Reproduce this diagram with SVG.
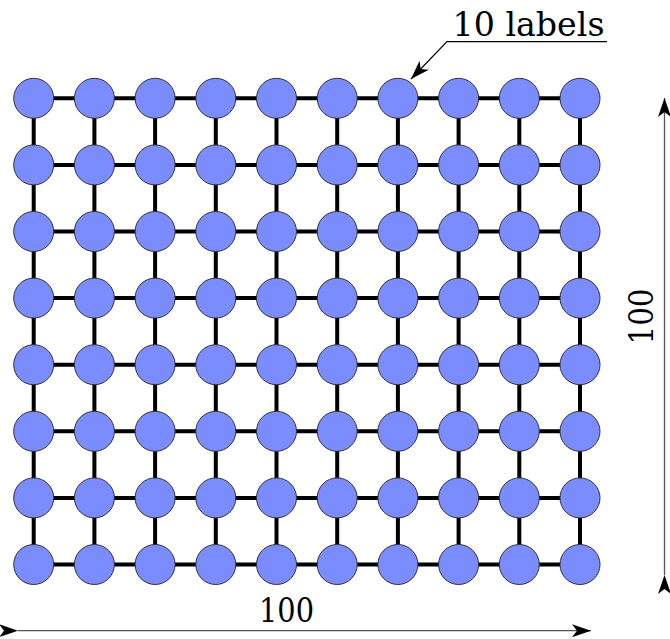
<svg xmlns="http://www.w3.org/2000/svg" width="670" height="639" viewBox="0 0 670 639">
<style>
.n{fill:#7b8cff;stroke:#333;stroke-width:1}
.e{stroke:#000;stroke-width:4;fill:none}
.d{stroke:#555;stroke-width:1.3;fill:none}
text{font-family:"DejaVu Serif","Liberation Serif",serif;font-size:34px;fill:#000}
</style>
<defs>
<marker id="ah" markerWidth="20" markerHeight="14" viewBox="0 0 20 14" refX="19" refY="7" orient="auto" markerUnits="userSpaceOnUse">
<path d="M0,0.5 L19,7 L0,13.5 L5,7 Z" fill="#000"/>
</marker>
</defs>
<rect width="670" height="639" fill="#fff"/>
<g id="connectors">
<path class="e" d="M33.7,98.3H580M33.7,164.9H580M33.7,231.5H580M33.7,298.1H580M33.7,364.7H580M33.7,431.3H580M33.7,497.9H580M33.7,564.5H580"/>
<path class="e" d="M33.7,98.3V564.5M94.4,98.3V564.5M155.1,98.3V564.5M215.8,98.3V564.5M276.5,98.3V564.5M337.2,98.3V564.5M397.9,98.3V564.5M458.6,98.3V564.5M519.3,98.3V564.5M580,98.3V564.5"/>
<path class="d" d="M664.5,575V98" marker-start="url(#ah)" marker-end="url(#ah)"/>
<path class="d" d="M18,630.7H591" marker-start="url(#ah)" marker-end="url(#ah)"/>
<path d="M607,41.7H447L411,79" fill="none" stroke="#000" stroke-width="1.2" marker-end="url(#ah)"/>
</g>
<g id="nodes">
<g id="r1"><circle class="n" cx="33.7" cy="98.3" r="20"/><circle class="n" cx="94.4" cy="98.3" r="20"/><circle class="n" cx="155.1" cy="98.3" r="20"/><circle class="n" cx="215.8" cy="98.3" r="20"/><circle class="n" cx="276.5" cy="98.3" r="20"/><circle class="n" cx="337.2" cy="98.3" r="20"/><circle class="n" cx="397.9" cy="98.3" r="20"/><circle class="n" cx="458.6" cy="98.3" r="20"/><circle class="n" cx="519.3" cy="98.3" r="20"/><circle class="n" cx="580" cy="98.3" r="20"/></g>
<g id="r2"><circle class="n" cx="33.7" cy="164.9" r="20"/><circle class="n" cx="94.4" cy="164.9" r="20"/><circle class="n" cx="155.1" cy="164.9" r="20"/><circle class="n" cx="215.8" cy="164.9" r="20"/><circle class="n" cx="276.5" cy="164.9" r="20"/><circle class="n" cx="337.2" cy="164.9" r="20"/><circle class="n" cx="397.9" cy="164.9" r="20"/><circle class="n" cx="458.6" cy="164.9" r="20"/><circle class="n" cx="519.3" cy="164.9" r="20"/><circle class="n" cx="580" cy="164.9" r="20"/></g>
<g id="r3"><circle class="n" cx="33.7" cy="231.5" r="20"/><circle class="n" cx="94.4" cy="231.5" r="20"/><circle class="n" cx="155.1" cy="231.5" r="20"/><circle class="n" cx="215.8" cy="231.5" r="20"/><circle class="n" cx="276.5" cy="231.5" r="20"/><circle class="n" cx="337.2" cy="231.5" r="20"/><circle class="n" cx="397.9" cy="231.5" r="20"/><circle class="n" cx="458.6" cy="231.5" r="20"/><circle class="n" cx="519.3" cy="231.5" r="20"/><circle class="n" cx="580" cy="231.5" r="20"/></g>
<g id="r4"><circle class="n" cx="33.7" cy="298.1" r="20"/><circle class="n" cx="94.4" cy="298.1" r="20"/><circle class="n" cx="155.1" cy="298.1" r="20"/><circle class="n" cx="215.8" cy="298.1" r="20"/><circle class="n" cx="276.5" cy="298.1" r="20"/><circle class="n" cx="337.2" cy="298.1" r="20"/><circle class="n" cx="397.9" cy="298.1" r="20"/><circle class="n" cx="458.6" cy="298.1" r="20"/><circle class="n" cx="519.3" cy="298.1" r="20"/><circle class="n" cx="580" cy="298.1" r="20"/></g>
<g id="r5"><circle class="n" cx="33.7" cy="364.7" r="20"/><circle class="n" cx="94.4" cy="364.7" r="20"/><circle class="n" cx="155.1" cy="364.7" r="20"/><circle class="n" cx="215.8" cy="364.7" r="20"/><circle class="n" cx="276.5" cy="364.7" r="20"/><circle class="n" cx="337.2" cy="364.7" r="20"/><circle class="n" cx="397.9" cy="364.7" r="20"/><circle class="n" cx="458.6" cy="364.7" r="20"/><circle class="n" cx="519.3" cy="364.7" r="20"/><circle class="n" cx="580" cy="364.7" r="20"/></g>
<g id="r6"><circle class="n" cx="33.7" cy="431.3" r="20"/><circle class="n" cx="94.4" cy="431.3" r="20"/><circle class="n" cx="155.1" cy="431.3" r="20"/><circle class="n" cx="215.8" cy="431.3" r="20"/><circle class="n" cx="276.5" cy="431.3" r="20"/><circle class="n" cx="337.2" cy="431.3" r="20"/><circle class="n" cx="397.9" cy="431.3" r="20"/><circle class="n" cx="458.6" cy="431.3" r="20"/><circle class="n" cx="519.3" cy="431.3" r="20"/><circle class="n" cx="580" cy="431.3" r="20"/></g>
<g id="r7"><circle class="n" cx="33.7" cy="497.9" r="20"/><circle class="n" cx="94.4" cy="497.9" r="20"/><circle class="n" cx="155.1" cy="497.9" r="20"/><circle class="n" cx="215.8" cy="497.9" r="20"/><circle class="n" cx="276.5" cy="497.9" r="20"/><circle class="n" cx="337.2" cy="497.9" r="20"/><circle class="n" cx="397.9" cy="497.9" r="20"/><circle class="n" cx="458.6" cy="497.9" r="20"/><circle class="n" cx="519.3" cy="497.9" r="20"/><circle class="n" cx="580" cy="497.9" r="20"/></g>
<g id="r8"><circle class="n" cx="33.7" cy="564.5" r="20"/><circle class="n" cx="94.4" cy="564.5" r="20"/><circle class="n" cx="155.1" cy="564.5" r="20"/><circle class="n" cx="215.8" cy="564.5" r="20"/><circle class="n" cx="276.5" cy="564.5" r="20"/><circle class="n" cx="337.2" cy="564.5" r="20"/><circle class="n" cx="397.9" cy="564.5" r="20"/><circle class="n" cx="458.6" cy="564.5" r="20"/><circle class="n" cx="519.3" cy="564.5" r="20"/><circle class="n" cx="580" cy="564.5" r="20"/></g>
</g>
<g id="labels">
<text x="452.5" y="36" font-size="33" textLength="152" lengthAdjust="spacingAndGlyphs">10 labels</text>
<text x="259" y="622" textLength="55" lengthAdjust="spacingAndGlyphs">100</text>
<text transform="translate(653,344.5) rotate(-90)" textLength="56" lengthAdjust="spacingAndGlyphs">100</text>
</g>
</svg>
